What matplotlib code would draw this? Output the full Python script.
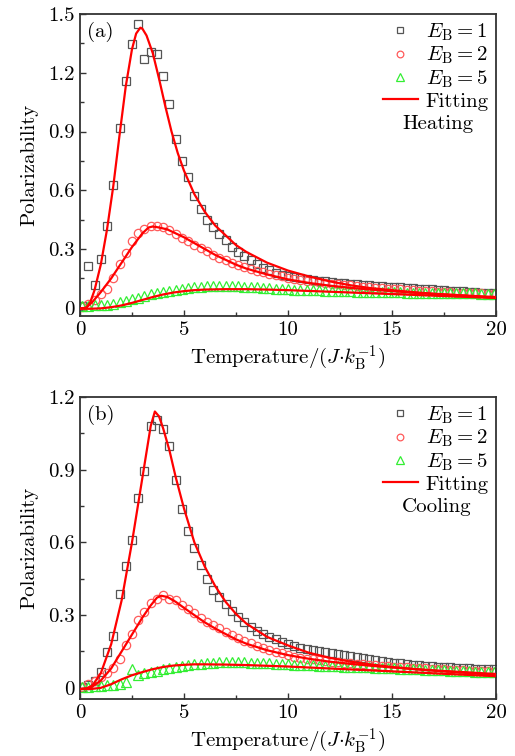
import numpy as np
import matplotlib
matplotlib.use("Agg")
import matplotlib.pyplot as plt
from matplotlib.ticker import MultipleLocator

plt.rcParams['font.family'] = 'serif'
plt.rcParams['font.serif'] = ['cmr10', 'DejaVu Serif']
plt.rcParams['mathtext.fontset'] = 'cm'
plt.rcParams['axes.unicode_minus'] = False
plt.rcParams['axes.formatter.use_mathtext'] = True

# ---------------- data ----------------
T = np.round(np.arange(0.1, 20.0, 0.3), 1)  # temperature grid of the markers

heat_E1 = [0.010, 0.212, 0.118, 0.251, 0.420, 0.626, 0.916, 1.158, 1.345, 1.447,
           1.268, 1.307, 1.294, 1.183, 1.038, 0.860, 0.749, 0.667, 0.573, 0.503,
           0.447, 0.413, 0.379, 0.345, 0.311, 0.285, 0.262, 0.242, 0.222, 0.205,
           0.191, 0.178, 0.168, 0.160, 0.155, 0.150, 0.146, 0.142, 0.138, 0.135,
           0.132, 0.128, 0.125, 0.122, 0.119, 0.116, 0.114, 0.112, 0.110, 0.108,
           0.106, 0.104, 0.102, 0.100, 0.098, 0.096, 0.094, 0.092, 0.090, 0.088,
           0.086, 0.084, 0.082, 0.080, 0.078, 0.077, 0.075]
heat_E2 = [0.005, 0.020, 0.042, 0.070, 0.096, 0.154, 0.222, 0.282, 0.343, 0.380,
           0.400, 0.418, 0.415, 0.410, 0.395, 0.377, 0.358, 0.340, 0.322, 0.303,
           0.288, 0.272, 0.256, 0.243, 0.231, 0.220, 0.210, 0.200, 0.190, 0.181,
           0.173, 0.166, 0.160, 0.154, 0.149, 0.144, 0.139, 0.135, 0.131, 0.127,
           0.123, 0.120, 0.117, 0.114, 0.111, 0.108, 0.105, 0.103, 0.100, 0.098,
           0.096, 0.094, 0.092, 0.090, 0.088, 0.086, 0.084, 0.083, 0.081, 0.080,
           0.078, 0.077, 0.075, 0.074, 0.073, 0.072, 0.071]
heat_E5 = [0.010, 0.010, 0.012, 0.014, 0.016, 0.020, 0.027, 0.035, 0.043, 0.052,
           0.060, 0.068, 0.075, 0.082, 0.088, 0.093, 0.098, 0.102, 0.105, 0.107,
           0.109, 0.110, 0.111, 0.111, 0.110, 0.109, 0.108, 0.106, 0.104, 0.102,
           0.100, 0.098, 0.096, 0.094, 0.093, 0.092, 0.091, 0.090, 0.089, 0.088,
           0.087, 0.086, 0.085, 0.084, 0.083, 0.082, 0.082, 0.081, 0.080, 0.080,
           0.079, 0.079, 0.078, 0.078, 0.077, 0.077, 0.076, 0.076, 0.075, 0.075,
           0.074, 0.074, 0.073, 0.073, 0.072, 0.072, 0.072]

cool_E1 = [0.005, 0.010, 0.028, 0.066, 0.149, 0.215, 0.389, 0.503, 0.608, 0.784,
           0.894, 1.079, 1.105, 1.068, 0.999, 0.858, 0.739, 0.647, 0.577, 0.506,
           0.447, 0.405, 0.375, 0.345, 0.318, 0.293, 0.272, 0.249, 0.235, 0.224,
           0.211, 0.200, 0.190, 0.179, 0.172, 0.166, 0.161, 0.156, 0.152, 0.148,
           0.144, 0.140, 0.136, 0.132, 0.128, 0.124, 0.120, 0.116, 0.112, 0.108,
           0.104, 0.101, 0.098, 0.096, 0.094, 0.092, 0.090, 0.088, 0.086, 0.084,
           0.083, 0.081, 0.080, 0.079, 0.078, 0.077, 0.076]
cool_E2 = [0.005, 0.015, 0.030, 0.045, 0.060, 0.082, 0.121, 0.176, 0.224, 0.279,
           0.313, 0.352, 0.368, 0.382, 0.368, 0.361, 0.341, 0.327, 0.309, 0.290,
           0.272, 0.259, 0.245, 0.231, 0.217, 0.204, 0.194, 0.183, 0.173, 0.165,
           0.156, 0.149, 0.142, 0.135, 0.128, 0.124, 0.120, 0.117, 0.114, 0.111,
           0.108, 0.106, 0.104, 0.102, 0.100, 0.098, 0.096, 0.094, 0.092, 0.090,
           0.088, 0.086, 0.085, 0.083, 0.082, 0.080, 0.079, 0.077, 0.076, 0.075,
           0.073, 0.072, 0.071, 0.070, 0.069, 0.068, 0.067]
cool_E5 = [0.005, 0.005, 0.006, 0.008, 0.010, 0.012, 0.016, 0.026, 0.078, 0.055,
           0.060, 0.065, 0.070, 0.076, 0.081, 0.086, 0.090, 0.094, 0.097, 0.100,
           0.102, 0.104, 0.105, 0.106, 0.106, 0.106, 0.105, 0.104, 0.103, 0.102,
           0.101, 0.100, 0.099, 0.097, 0.096, 0.095, 0.094, 0.093, 0.092, 0.091,
           0.090, 0.089, 0.088, 0.087, 0.086, 0.085, 0.084, 0.083, 0.082, 0.081,
           0.080, 0.079, 0.078, 0.077, 0.076, 0.075, 0.074, 0.073, 0.072, 0.071,
           0.070, 0.069, 0.068, 0.067, 0.066, 0.065, 0.065]

# fitting curves
fit_heat_E1_x = [0, 0.3, 0.5, 0.7, 1.0, 1.3, 1.6, 1.9, 2.2, 2.5, 2.7, 2.9, 3.0, 3.2, 3.5, 3.8,
                 4.1, 4.4, 4.7, 5.0, 5.5, 6.0, 6.5, 7.0, 7.5, 8.0, 9.0, 10, 11, 12, 13, 14,
                 15, 16, 17, 18, 19, 20]
fit_heat_E1_y = [-0.005, 0.0, 0.03, 0.09, 0.22, 0.40, 0.62, 0.88, 1.13, 1.32, 1.40, 1.43, 1.425,
                 1.39, 1.30, 1.17, 1.03, 0.90, 0.79, 0.70, 0.58, 0.49, 0.42, 0.37, 0.32, 0.285,
                 0.23, 0.19, 0.16, 0.135, 0.115, 0.10, 0.09, 0.08, 0.072, 0.066, 0.06, 0.055]
fit_heat_E2_x = [0, 0.3, 0.6, 1.0, 1.5, 2.0, 2.5, 3.0, 3.3, 3.5, 3.8, 4.2, 4.6, 5.0, 5.5, 6.0,
                 6.5, 7.0, 7.5, 8.0, 9.0, 10, 11, 12, 13, 14, 15, 16, 17, 18, 19, 20]
fit_heat_E2_y = [-0.003, 0.0, 0.03, 0.08, 0.15, 0.23, 0.31, 0.38, 0.41, 0.415, 0.41, 0.40, 0.38,
                 0.36, 0.33, 0.30, 0.27, 0.245, 0.22, 0.20, 0.17, 0.145, 0.127, 0.113, 0.102,
                 0.093, 0.085, 0.077, 0.07, 0.064, 0.058, 0.052]
fit_heat_E5_x = [0, 0.5, 1.0, 1.5, 2.0, 2.5, 3.0, 3.5, 4.0, 4.5, 5.0, 5.5, 6.0, 7.0, 8.0, 9.0,
                 10, 11, 12, 13, 14, 15, 16, 17, 18, 19, 20]
fit_heat_E5_y = [-0.005, -0.005, -0.003, 0.003, 0.012, 0.025, 0.04, 0.055, 0.068, 0.078, 0.085,
                 0.09, 0.093, 0.095, 0.095, 0.093, 0.09, 0.086, 0.082, 0.078, 0.074, 0.07,
                 0.066, 0.062, 0.058, 0.054, 0.05]

fit_cool_E1_x = [0, 0.3, 0.6, 1.0, 1.5, 2.0, 2.5, 2.8, 3.1, 3.4, 3.6, 3.8, 4.0, 4.3, 4.6, 5.0,
                 5.5, 6.0, 6.5, 7.0, 7.5, 8.0, 9.0, 10, 11, 12, 13, 14, 15, 16, 17, 18, 19, 20]
fit_cool_E1_y = [-0.005, -0.003, 0.01, 0.06, 0.18, 0.36, 0.60, 0.76, 0.92, 1.08, 1.14, 1.12,
                 1.07, 0.98, 0.87, 0.74, 0.60, 0.50, 0.42, 0.355, 0.305, 0.265, 0.21, 0.175,
                 0.145, 0.124, 0.108, 0.096, 0.086, 0.078, 0.071, 0.065, 0.059, 0.054]
fit_cool_E2_x = [0, 0.5, 1.0, 1.5, 2.0, 2.5, 3.0, 3.4, 3.7, 3.9, 4.2, 4.6, 5.0, 5.5, 6.0, 6.5,
                 7.0, 7.5, 8.0, 9.0, 10, 11, 12, 13, 14, 15, 16, 17, 18, 19, 20]
fit_cool_E2_y = [-0.005, 0.0, 0.03, 0.08, 0.15, 0.22, 0.29, 0.34, 0.372, 0.38, 0.375, 0.355,
                 0.33, 0.30, 0.27, 0.245, 0.222, 0.2, 0.182, 0.155, 0.135, 0.12, 0.108, 0.099,
                 0.091, 0.084, 0.078, 0.072, 0.067, 0.062, 0.057]
fit_cool_E5_x = [0, 0.5, 1.0, 1.5, 2.0, 2.5, 3.0, 3.5, 4.0, 4.5, 5.0, 5.5, 6.0, 7.0, 8.0, 9.0,
                 10, 11, 12, 13, 14, 15, 16, 17, 18, 19, 20]
fit_cool_E5_y = [-0.005, -0.005, 0.0, 0.015, 0.035, 0.052, 0.065, 0.077, 0.086, 0.092, 0.095,
                 0.097, 0.097, 0.096, 0.094, 0.091, 0.088, 0.084, 0.08, 0.076, 0.072, 0.068,
                 0.064, 0.06, 0.056, 0.052, 0.048]

series_labels = [r'$E_{\mathrm{B}}=1$', r'$E_{\mathrm{B}}=2$', r'$E_{\mathrm{B}}=5$', 'Fitting']
xticks = [0, 5, 10, 15, 20]
yticks_a = [0, 0.3, 0.6, 0.9, 1.2, 1.5]
ylabels_a = ['0', '0.3', '0.6', '0.9', '1.2', '1.5']
yticks_b = [0, 0.3, 0.6, 0.9, 1.2]
ylabels_b = ['0', '0.3', '0.6', '0.9', '1.2']

# ---------------- figure ----------------
FS = 15
fig = plt.figure(figsize=(5.15, 7.56), dpi=100)
ax_a = fig.add_axes([0.1553, 0.5820, 0.8078, 0.3995])
ax_b = fig.add_axes([0.1553, 0.0754, 0.8078, 0.3995])

sq_c = '#555555'
ci_c = '#ff5a5a'
tr_c = '#33ee33'
ln_c = '#ff0000'


def panel(ax, d1, d2, d5, fits, ylim, yt, yl, tag, mode):
    h1, = ax.plot(T, d1, ls='none', marker='s', ms=5.2, mfc='none', mec=sq_c, mew=0.9, zorder=2)
    h2, = ax.plot(T, d2, ls='none', marker='o', ms=6.0, mfc='none', mec=ci_c, mew=0.9, zorder=2)
    h5, = ax.plot(T, d5, ls='none', marker='^', ms=6.5, mfc='none', mec=tr_c, mew=0.9, zorder=2)
    hf = None
    for fx, fy in fits:
        hf, = ax.plot(fx, fy, color=ln_c, lw=1.6, zorder=3)
    ax.set_xlim(0, 20)
    ax.set_ylim(*ylim)
    ax.set_xticks(xticks)
    ax.set_xticklabels([str(v) for v in xticks])
    ax.set_yticks(yt)
    ax.set_yticklabels(yl)
    ax.xaxis.set_minor_locator(MultipleLocator(2.5))
    ax.yaxis.set_minor_locator(MultipleLocator(0.15))
    ax.tick_params(which='both', direction='in', top=False, right=False, labelsize=FS,
                   color='#333333', pad=4)
    ax.tick_params(which='major', length=4, width=1.0)
    ax.tick_params(which='minor', length=3, width=1.0)
    for s in ax.spines.values():
        s.set_linewidth(1.3)
        s.set_color('#333333')
    ax.set_xlabel(r'Temperature/$(J{\cdot}k_{\mathrm{B}}^{-1})$', fontsize=FS, labelpad=3)
    ax.set_ylabel('Polarizability', fontsize=FS, labelpad=7)
    ax.text(0.018, 0.94, tag, transform=ax.transAxes, fontsize=FS, va='center', ha='left')
    ax.legend([h1, h2, h5, hf], series_labels, loc='upper right', frameon=False,
              fontsize=FS, handlelength=1.68, handletextpad=0.38, labelspacing=0.1,
              borderaxespad=0.15, borderpad=0.2, markerscale=0.8)
    ax.text(0.774, 0.637, mode, transform=ax.transAxes, fontsize=FS, va='center', ha='left')


panel(ax_a, heat_E1, heat_E2, heat_E5,
      [(fit_heat_E1_x, fit_heat_E1_y), (fit_heat_E2_x, fit_heat_E2_y), (fit_heat_E5_x, fit_heat_E5_y)],
      (-0.042, 1.5), yticks_a, ylabels_a, '(a)', 'Heating')
panel(ax_b, cool_E1, cool_E2, cool_E5,
      [(fit_cool_E1_x, fit_cool_E1_y), (fit_cool_E2_x, fit_cool_E2_y), (fit_cool_E5_x, fit_cool_E5_y)],
      (-0.046, 1.2), yticks_b, ylabels_b, '(b)', 'Cooling')

fig.savefig('out.png', dpi=100)
